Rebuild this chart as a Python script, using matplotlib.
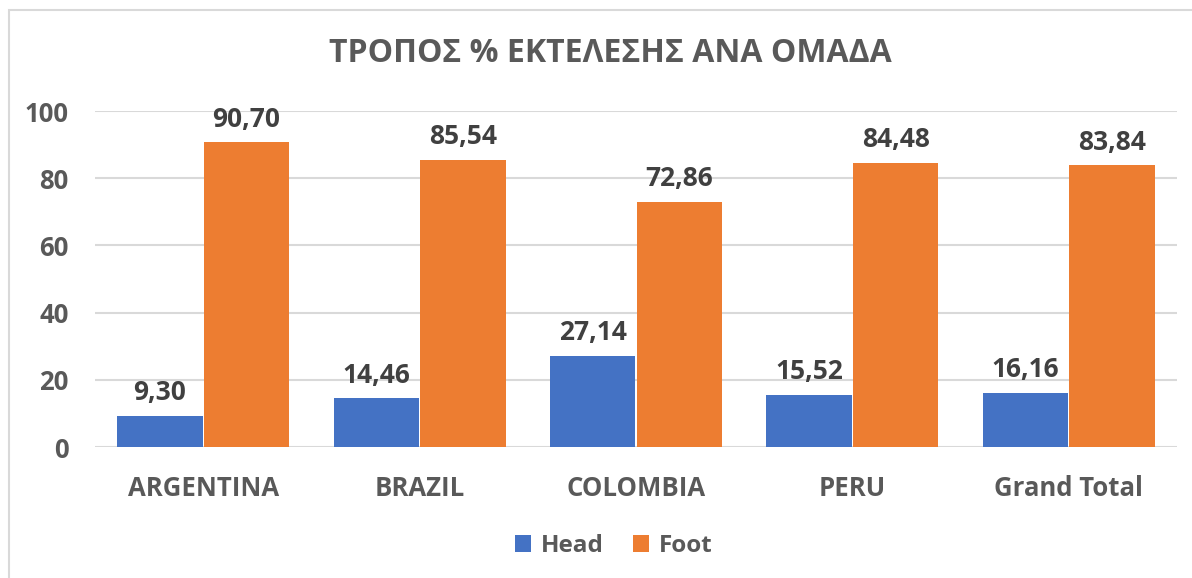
import matplotlib.pyplot as plt
import numpy as np
from matplotlib.patches import Rectangle

plt.rcParams['font.family'] = ['Open Sans', 'DejaVu Sans']

teams = ["ARGENTINA", "BRAZIL", "COLOMBIA", "PERU", "Grand Total"]
head = [9.30, 14.46, 27.14, 15.52, 16.16]
foot = [90.70, 85.54, 72.86, 84.48, 83.84]

grey = "#595959"
blue = "#4472C4"
orange = "#ED7D31"

fig = plt.figure(figsize=(11.92, 5.78), dpi=100)
# light frame round the chart area (right and bottom edges fall off the picture)
fig.patches.append(Rectangle((9/1192, -0.05), 1.2, 1.05 - 10/578, transform=fig.transFigure,
                             fill=False, edgecolor="#D9D9D9", linewidth=1.5))
ax = fig.add_axes([95/1192, 1 - 447/578, 1082/1192, 336/578])

x = np.arange(len(teams))
w = 0.395
b1 = ax.bar(x - 0.2, head, w, color=blue, label="Head", zorder=3)
b2 = ax.bar(x + 0.2, foot, w, color=orange, label="Foot", zorder=3)

for bars in (b1, b2):
    for r in bars:
        v = r.get_height()
        ax.annotate(f"{v:.2f}".replace(".", ","), (r.get_x() + r.get_width() / 2, v),
                    xytext=(0, 7), textcoords="offset points", ha="center", va="bottom",
                    fontsize=19, fontweight="bold", color="#404040")

ax.set_xlim(-0.5, len(teams) - 0.5)
ax.set_ylim(0, 100)
ax.set_yticks(range(0, 101, 20))
ax.set_xticks(x)
ax.set_xticklabels(teams)
ax.tick_params(length=0, labelsize=18.5, labelcolor=grey)
ax.tick_params(axis="y", pad=19)
ax.tick_params(axis="x", pad=20)
for t in ax.get_xticklabels() + ax.get_yticklabels():
    t.set_fontweight("bold")
ax.grid(axis="y", color="#D9D9D9", linewidth=1.5, zorder=0)
for s in ax.spines.values():
    s.set_visible(False)

fig.text(0.512, 1 - 53/578, "ΤΡΟΠΟΣ % ΕΚΤΕΛΕΣΗΣ ΑΝΑ ΟΜΑΔΑ", ha="center", va="center",
         fontsize=23, fontweight="bold", color=grey)

fig.legend(loc="center", bbox_to_anchor=(0.515, 1 - 546/578), ncol=2, frameon=False,
           handlelength=0.65, handleheight=0.65, handletextpad=0.4,
           columnspacing=1.2, prop={"weight": "bold", "size": 17.5})
for t in fig.legends[0].get_texts():
    t.set_color(grey)

fig.savefig("out.png", dpi=100)
